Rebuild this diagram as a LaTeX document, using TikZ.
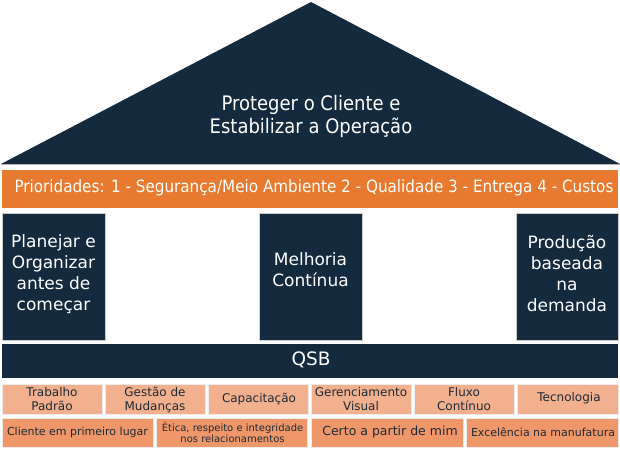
\documentclass[tikz,border=0pt]{standalone}
\usepackage{fontspec}
\setmainfont{DejaVu Sans}
\newfontfamily\condf{DejaVu Sans Condensed}
\definecolor{navy}{HTML}{132A3F}
\definecolor{orng}{HTML}{E87A2F}
\definecolor{lsal}{HTML}{F2B08E}
\definecolor{dsal}{HTML}{F0976A}
\definecolor{txt}{HTML}{1E2A36}
\begin{document}
\begin{tikzpicture}[x=1pt,y=-1pt,
  pillar/.style={fill=navy,draw=gray!40,line width=0.6pt},
  lbox/.style={fill=lsal,draw=white!85!gray,line width=0.6pt},
  dbox/.style={fill=dsal,draw=white!85!gray,line width=0.6pt},
  wtxt/.style={text=white,align=center,font=\fontsize{16}{20}\selectfont},
  ptxt/.style={text=white,align=center,font=\fontsize{17}{21}\selectfont},
  stxt/.style={text=txt,align=center,font=\fontsize{12}{14}\selectfont}]
\useasboundingbox (0,0) rectangle (620,448);
% roof
\fill[navy] (1,164) -- (311,2) -- (620,164) -- cycle;
\draw[gray!60,line width=0.8pt] (1,164.5) -- (620,164.5);
\node[text=white,align=center,font=\condf\fontsize{20}{23}\selectfont] (roof) at (311,116) {Proteger o Cliente e\\Estabilizar a Operação};
% priorities
\fill[orng] (2,170) rectangle (618,208);
\node[text=white,font=\condf\fontsize{16.9}{18}\selectfont] (prio) at (314,188) {Prioridades: 1 - Segurança/Meio Ambiente 2 - Qualidade 3 - Entrega 4 - Custos};
% pillars
\draw[pillar] (2,213) rectangle (105,340);
\node[ptxt] (p1) at (53.5,274) {Planejar e\\Organizar\\antes de\\começar};
\draw[pillar] (259,213) rectangle (362,340);
\node[ptxt] (p2) at (310.5,270) {Melhoria\\Contínua};
\draw[pillar] (516,213) rectangle (618,340);
\node[ptxt] (p3) at (567,274) {Produção\\baseada\\na\\demanda};
% QSB
\fill[navy] (2,344) rectangle (618,378);
\node[wtxt,font=\fontsize{18.5}{20}\selectfont] (qsb) at (311,360) {QSB};
% row 1
\draw[lbox] (2,384) rectangle (102,414);
\node[stxt] (b1) at (52,399.5) {Trabalho\\Padrão};
\draw[lbox] (105,384) rectangle (205,414);
\node[stxt] (b2) at (155,399.5) {Gestão de\\Mudanças};
\draw[lbox] (208,384) rectangle (308,414);
\node[stxt] (b3) at (259,399) {Capacitação};
\draw[lbox] (311,384) rectangle (411,414);
\node[stxt] (b4) at (361,399.5) {Gerenciamento\\Visual};
\draw[lbox] (414,384) rectangle (514,414);
\node[stxt] (b5) at (464,399.5) {Fluxo\\Contínuo};
\draw[lbox] (517,384) rectangle (618,414);
\node[stxt] (b6) at (569,398) {Tecnologia};
% row 2
\draw[dbox] (2,418) rectangle (153,447);
\node[stxt,font=\fontsize{11}{12}\selectfont] (c1) at (77.5,432.5) {Cliente em primeiro lugar};
\draw[dbox] (156,418) rectangle (307,447);
\node[stxt,font=\fontsize{10}{11}\selectfont] (c2) at (232.5,432.5) {Ética, respeito e integridade\\nos relacionamentos};
\draw[dbox] (311,418) rectangle (463,447);
\node[stxt,font=\fontsize{12.5}{14}\selectfont] (c3) at (390,432.5) {Certo a partir de mim};
\draw[dbox] (466,418) rectangle (618,447);
\node[stxt,font=\fontsize{11}{12}\selectfont] (c4) at (543,432.5) {Excelência na manufatura};
\end{tikzpicture}
\end{document}
